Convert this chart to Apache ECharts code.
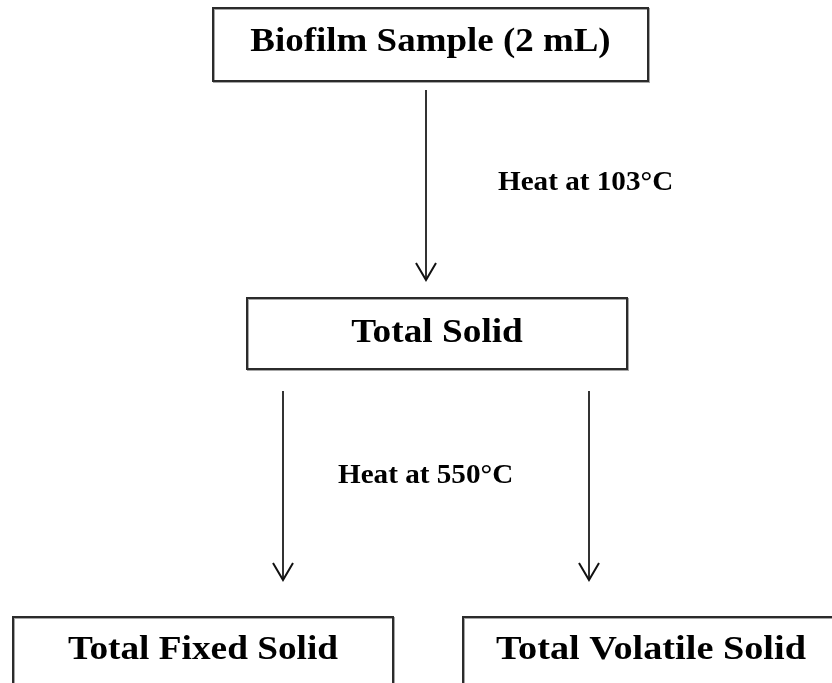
<!DOCTYPE html>
<html>
<head>
<meta charset="utf-8">
<script src="https://cdn.jsdelivr.net/npm/echarts@6/dist/echarts.min.js"></script>
<style>
  html, body { margin: 0; padding: 0; background: #fff; }
  #chart { width: 832px; height: 683px; }
</style>
</head>
<body>
<div id="chart"></div>
<script>
// flow steps and the heating conditions between them
const boxLabels = ['Biofilm Sample (2 mL)', 'Total Solid', 'Total Fixed Solid', 'Total Volatile Solid'];
const stepLabels = ['Heat at 103°C', 'Heat at 550°C'];

const FONT = '"Liberation Serif", "DejaVu Serif", serif';

// the source text is a bit stretched sideways, so labels get a scaleX
function box(x, y, w, h, label, textY, stretch) {
    return [
        {
            type: 'rect',
            shape: { x: x, y: y, width: w, height: h },
            style: { fill: '#fff', stroke: '#2b2b2b', lineWidth: 2, shadowColor: 'rgba(0,0,0,0.35)', shadowOffsetX: 1, shadowOffsetY: 1 }
        },
        {
            type: 'text',
            x: x + w / 2, y: textY,
            scaleX: stretch,
            style: { text: label, fill: '#000', font: 'bold 33px ' + FONT, align: 'center', verticalAlign: 'middle' }
        }
    ];
}

function arrow(x, y1, y2) {
    return [
        { type: 'line', shape: { x1: x, y1: y1, x2: x, y2: y2 }, style: { stroke: '#333', lineWidth: 2 } },
        { type: 'polyline', shape: { points: [[x - 10, y2 - 17], [x, y2], [x + 10, y2 - 17]] }, style: { stroke: '#111', lineWidth: 2, fill: null } }
    ];
}

function note(x, y, label) {
    return {
        type: 'text', x: x, y: y,
        scaleX: 1.08,
        style: { text: label, fill: '#000', font: 'bold 27px ' + FONT, align: 'left', verticalAlign: 'middle' }
    };
}

const chart = echarts.init(document.getElementById('chart'));

const elements = [].concat(
    box(213, 8, 435, 73, boxLabels[0], 42, 1.12),
    arrow(426, 90, 280),
    [note(498, 183, stepLabels[0])],
    box(247, 298, 380, 71, boxLabels[1], 333, 1.13),
    arrow(283, 391, 580),
    arrow(589, 391, 580),
    [note(338, 476, stepLabels[1])],
    // bottom boxes run off the lower edge of the picture
    box(13, 617, 380, 90, boxLabels[2], 650, 1.13),
    box(463, 617, 400, 90, boxLabels[3], 650, 1.16)
);
// bottom-right label is not centred in its (clipped) box
elements[elements.length - 1].x = 651;

chart.setOption({
    backgroundColor: '#fff',
    animation: false,
    graphic: { elements: elements }
});
</script>
</body>
</html>
